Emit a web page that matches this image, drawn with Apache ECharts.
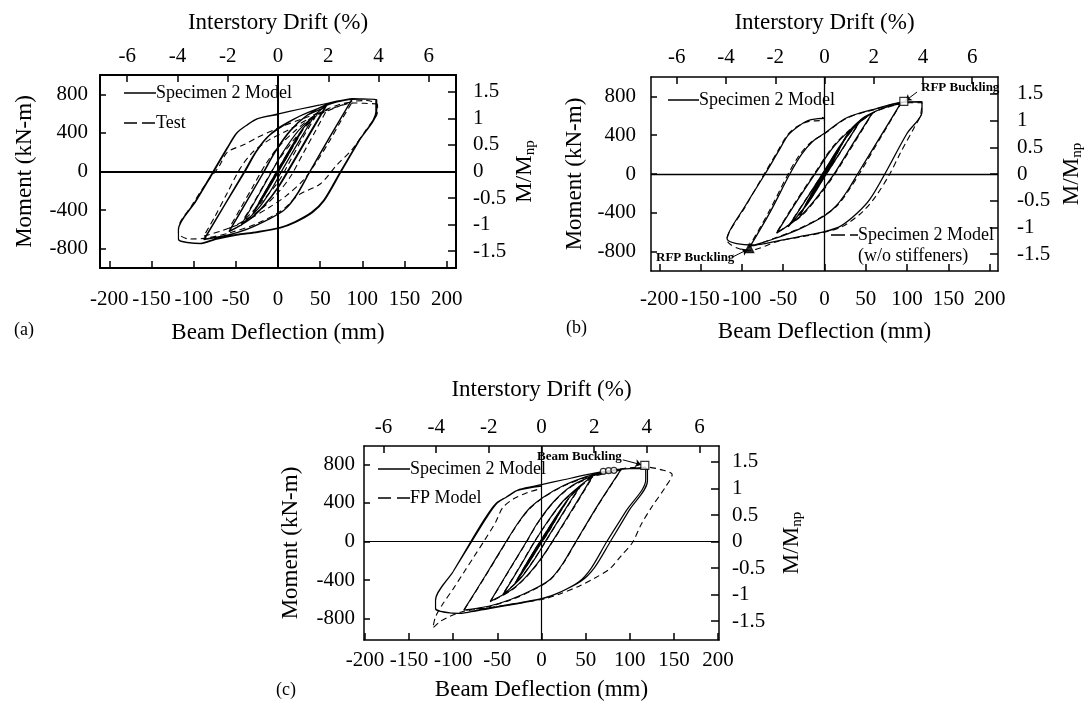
<!DOCTYPE html>
<html>
<head>
<meta charset="utf-8">
<script src="https://cdn.jsdelivr.net/npm/echarts@6/dist/echarts.min.js"></script>
<style>
html, body { margin: 0; padding: 0; background: #fff; }
#chart { width: 1086px; height: 702px; }
</style>
</head>
<body>
<div id="chart"></div>
<script>
// tick values
var deflTicks = [-200, -150, -100, -50, 0, 50, 100, 150, 200];
var driftTicks = [-6, -4, -2, 0, 2, 4, 6];
var momentTicks = [-800, -400, 0, 400, 800];
var ratioTicks = [-1.5, -1, -0.5, 0, 0.5, 1, 1.5];

// (a) Specimen 2 model vs test  [deflection mm, moment kN-m]
var aModel = [[0,0],[11,170],[-11,-165],[11,170],
  [15,230],[6,95],[-15,-225],[-6,-90],[15,230],
  [22,330],[10,150],[-6,-70],[-22,-320],[-10,-140],[6,80],[22,330],
  [30,450],[16,240],[0,-10],[-14,-220],[-30,-440],[-16,-220],[0,20],[14,230],[30,450],
  [44,590],[26,330],[6,30],[-8,-190],[-24,-390],[-44,-560],[-26,-290],[-8,-10],[6,200],[24,420],[44,590],
  [58,690],[38,390],[14,30],[0,-170],[-16,-350],[-34,-500],[-58,-620],[-38,-320],[-18,-20],[-4,200],[14,420],[34,580],[58,690],
  [58,700],[37,390],[13,30],[-1,-175],[-17,-355],[-35,-505],[-58,-625],[-37,-310],[-17,-10],[-3,205],[15,425],[35,585],[58,700],
  [74,730],[88,750],[63,380],[38,0],[24,-220],[10,-380],[-10,-490],[-35,-590],[-60,-660],[-87,-700],[-64,-360],[-39,0],[-26,200],[-13,350],[2,450],[25,570],[50,660],[70,720],[88,752],
  [62,370],[37,-10],[22,-240],[8,-395],[-12,-500],[-37,-600],[-62,-665],[-88,-705],[-64,-355],[-40,0],[-27,195],[-14,345],[1,455],[26,575],[51,665],[71,725],[88,755],
  [100,752],[116,748],[116,620],[95,310],[74,0],[54,-300],[40,-420],[20,-520],[2,-580],[-25,-625],[-50,-655],[-75,-700],[-92,-745],[-118,-700],[-118,-600],[-98,-310],[-77,0],[-60,250],[-49,400],[-37,480],[-25,545],[2,600],[25,645],[50,690],[77,740],[100,750],[117,745],
  [117,625],[96,315],[75,0],[55,-300],[41,-425],[21,-525],[3,-585],[-24,-630],[-49,-660],[-74,-705],[-91,-748],[-118,-705],[-118,-605],[-97,-305],[-76,0],[-59,255],[-48,405],[-36,485],[-24,548],[0,590]];
var aTest = [[0,0],[12,170],[-12,-160],[12,175],
  [16,230],[-16,-220],[16,235],
  [22,320],[10,150],[-8,-110],[-22,-310],[-10,-140],[8,120],[22,330],
  [30,440],[15,215],[0,0],[-15,-225],[-30,-430],[-15,-205],[0,25],[15,240],[30,450],
  [44,560],[30,360],[15,120],[0,-110],[-20,-320],[-44,-540],[-30,-340],[-15,-110],[0,110],[20,340],[44,565],
  [58,640],[45,430],[30,190],[15,-50],[0,-220],[-20,-390],[-40,-510],[-58,-590],[-45,-390],[-30,-160],[-15,70],[0,250],[20,420],[40,560],[58,645],
  [75,700],[88,720],[75,530],[60,300],[45,90],[30,-90],[10,-250],[-10,-370],[-40,-520],[-65,-610],[-88,-670],[-75,-470],[-60,-220],[-45,30],[-30,200],[-10,330],[10,420],[40,560],[65,650],[88,725],
  [105,735],[118,690],[118,620],[105,440],[88,230],[70,70],[50,-130],[25,-240],[5,-400],[-25,-540],[-55,-630],[-85,-690],[-105,-700],[-118,-640],[-118,-590],[-102,-350],[-85,-120],[-70,50],[-60,200],[-40,280],[-25,350],[0,450],[30,550],[60,640],[90,710],[118,700]];

// (b) Specimen 2 model with and without stiffeners
var bModel = [[0,0],[10,150],[-10,-150],[10,150],
  [15,230],[5,60],[-15,-225],[-5,-55],[15,230],
  [22,330],[8,120],[-8,-110],[-22,-320],[-8,-120],[8,110],[22,330],
  [30,440],[12,180],[-6,-60],[-30,-430],[-12,-170],[6,65],[30,440],
  [44,560],[24,290],[0,-30],[-20,-300],[-44,-545],[-24,-285],[0,35],[20,305],[44,560],
  [58,630],[35,320],[10,-20],[-10,-250],[-30,-440],[-58,-610],[-35,-300],[-10,20],[10,270],[32,460],[58,630],
  [75,690],[92,725],[68,390],[40,0],[28,-170],[14,-330],[0,-430],[-30,-565],[-60,-665],[-90,-745],[-66,-395],[-42,0],[-28,200],[-15,330],[0,420],[27,580],[63,675],[95,740],[118,745],
  [118,640],[100,420],[73,0],[55,-260],[40,-400],[20,-535],[0,-595],[-30,-645],[-52,-682],[-88,-732],[-118,-665],[-96,-330],[-72,0],[-56,230],[-44,400],[-32,490],[-20,550],[-8,570],[0,575],[-3,585]];
var bNoStiff = [[0,0],[10,148],[-10,-148],[10,148],
  [15,228],[-15,-222],[15,228],
  [22,328],[8,118],[-8,-108],[-22,-318],[-8,-118],[8,108],[22,328],
  [30,436],[12,176],[-6,-58],[-30,-428],[-12,-168],[6,62],[30,436],
  [44,556],[24,286],[0,-28],[-20,-296],[-44,-540],[-24,-280],[0,32],[20,300],[44,556],
  [58,625],[36,320],[11,-20],[-9,-250],[-29,-440],[-58,-605],[-36,-300],[-11,20],[9,270],[31,460],[58,625],
  [75,685],[92,720],[69,390],[42,0],[30,-160],[16,-320],[0,-425],[-30,-560],[-60,-660],[-92,-760],[-68,-400],[-44,0],[-30,200],[-16,330],[0,415],[27,575],[63,670],[95,735],[118,735],
  [116,600],[108,470],[92,220],[79,0],[62,-230],[46,-390],[22,-540],[0,-600],[-30,-650],[-55,-690],[-92,-790],[-118,-680],[-96,-340],[-73,0],[-57,230],[-45,400],[-33,490],[-20,540],[-6,550],[0,555]];
var bBuckleSq = [[96,748]];
var bBuckleTri = [[-91,-765]];

// (c) Specimen 2 model vs FP model
var cModel = [[0,0],[11,165],[-11,-160],[11,165],
  [15,225],[6,90],[-15,-220],[-6,-85],[15,225],
  [22,325],[10,145],[-6,-65],[-22,-315],[-10,-135],[6,75],[22,325],
  [30,440],[16,235],[0,-10],[-14,-215],[-30,-435],[-16,-215],[0,20],[14,225],[30,440],
  [44,580],[26,320],[6,25],[-8,-185],[-24,-385],[-44,-555],[-26,-285],[-8,-5],[6,195],[24,415],[44,580],
  [58,680],[38,380],[14,25],[0,-170],[-16,-350],[-34,-500],[-58,-620],[-38,-315],[-18,-15],[-4,200],[14,415],[34,575],[58,680],
  [75,720],[90,745],[64,380],[39,0],[24,-230],[10,-390],[-10,-500],[-35,-600],[-60,-670],[-88,-710],[-64,-360],[-40,0],[-26,200],[-13,350],[2,460],[25,580],[50,670],[72,725],[90,748],
  [105,760],[118,770],[118,640],[96,320],[74,0],[56,-280],[42,-420],[20,-530],[2,-590],[-25,-640],[-50,-680],[-75,-720],[-95,-745],[-120,-690],[-120,-600],[-100,-310],[-79,0],[-62,250],[-50,400],[-38,470],[-25,540],[0,590],[25,640],[50,690],[77,735],[100,755],[120,755],
  [120,630],[99,320],[78,0],[60,-270],[45,-410],[22,-520],[4,-580],[-22,-630],[-48,-670],[-72,-710],[-93,-745],[-120,-700],[-120,-610],[-100,-310],[-80,0],[-64,240],[-52,390],[-40,460],[-27,530],[0,575]];
var cFP = [[0,0],[11,160],[-11,-158],[11,160],
  [15,222],[-15,-218],[15,222],
  [22,320],[10,140],[-6,-60],[-22,-310],[-10,-130],[6,70],[22,320],
  [30,435],[16,230],[0,-5],[-14,-210],[-30,-430],[-16,-210],[0,25],[14,220],[30,435],
  [44,570],[26,315],[6,20],[-8,-180],[-24,-380],[-44,-550],[-26,-280],[-8,0],[6,190],[24,410],[44,570],
  [58,670],[38,370],[14,20],[0,-175],[-16,-355],[-34,-505],[-58,-625],[-38,-320],[-18,-20],[-4,195],[14,410],[34,570],[58,670],
  [75,715],[90,740],[64,375],[39,-5],[24,-235],[10,-395],[-10,-505],[-35,-605],[-60,-675],[-88,-715],[-64,-365],[-40,-5],[-26,195],[-13,345],[2,455],[25,575],[50,665],[72,720],
  [100,765],[120,770],[135,745],[148,695],[140,560],[125,360],[113,180],[103,-10],[90,-150],[77,-285],[60,-380],[43,-460],[20,-545],[5,-590],[-20,-630],[-44,-665],[-70,-700],[-89,-725],[-105,-780],[-115,-830],[-123,-895],[-120,-780],[-112,-650],[-100,-490],[-88,-320],[-76,-150],[-64,20],[-52,200],[-44,350],[-32,440],[-15,510],[0,550]];
var cBuckleSq = [[117,790]];
var cBuckleCirc = [[70,728],[76,734],[82,738]];

var FONT = 'Liberation Serif';
var MM_PER_PCT = 29.8;   // beam deflection per 1% drift
var MNP = 550;           // plastic moment, kN-m

var panels = [
  {grid: {left: 100, top: 75, width: 356, height: 193}, xr: 211, ylo: -1000, yhi: 1000, lw: 2,
   margin: [21, 8, 12, 17], gap: [53, 41, 64, 55]},
  {grid: {left: 651, top: 77, width: 352, height: 194}, xr: 210, ylo: -1000, yhi: 1000, lw: 1.5,
   margin: [18, 9, 15, 19], gap: [49, 43, 65, 60]},
  {grid: {left: 364, top: 446, width: 355, height: 196}, xr: 201, ylo: -1020, yhi: 990, lw: 1.5,
   margin: [10, 8, 9, 13], gap: [38, 45, 62, 59]}
];

var titleStyle = {color: '#000', fontFamily: FONT, fontSize: 23};

function axis(gi, pos, min, max, ticks, margin, lw, tickLen) {
  return {
    gridIndex: gi, type: 'value', position: pos, min: min, max: max,
    axisLine: {show: true, onZero: false, lineStyle: {color: '#000', width: lw}},
    axisTick: {show: true, inside: true, length: tickLen, customValues: ticks,
               lineStyle: {color: '#000', width: 1.5}},
    axisLabel: {show: true, customValues: ticks, margin: margin, color: '#000',
                fontFamily: FONT, fontSize: 21},
    splitLine: {show: false}
  };
}

var grids = [], xAxes = [], yAxes = [];
panels.forEach(function (p, i) {
  grids.push(Object.assign({show: false}, p.grid));
  var bottom = axis(i, 'bottom', -p.xr, p.xr, deflTicks, p.margin[0], p.lw, 7);
  bottom.name = 'Beam Deflection (mm)';
  bottom.nameLocation = 'middle';
  bottom.nameGap = p.gap[0];
  bottom.nameTextStyle = titleStyle;
  var top = axis(i, 'top', -p.xr / MM_PER_PCT, p.xr / MM_PER_PCT, driftTicks, p.margin[1], p.lw, 7);
  top.name = 'Interstory Drift (%)';
  top.nameLocation = 'middle';
  top.nameGap = p.gap[1];
  top.nameTextStyle = titleStyle;
  xAxes.push(bottom, top);
  var left = axis(i, 'left', p.ylo, p.yhi, momentTicks, p.margin[2], p.lw, 6);
  left.name = 'Moment (kN-m)';
  left.nameLocation = 'middle';
  left.nameGap = p.gap[2];
  left.nameTextStyle = titleStyle;
  var right = axis(i, 'right', p.ylo / MNP, p.yhi / MNP, ratioTicks, p.margin[3], p.lw, 8);
  right.name = 'M/M{s|np}';
  right.nameLocation = 'middle';
  right.nameRotate = 90;
  right.nameGap = p.gap[3];
  right.nameTextStyle = {color: '#000', fontFamily: FONT, fontSize: 23,
    rich: {s: {fontFamily: FONT, fontSize: 15, color: '#000', padding: [12, 0, 0, 0]}}};
  right.axisLabel.align = 'left';
  yAxes.push(left, right);
});

function curve(i, data, dashed, width) {
  return {
    type: 'line', xAxisIndex: 2 * i, yAxisIndex: 2 * i, data: data,
    symbol: 'none', showSymbol: false, smooth: 0.3, silent: true,
    lineStyle: {color: '#000', width: width, type: dashed ? [6, 4] : 'solid'},
    z: 3
  };
}

function zeroLines(s, w) {
  s.markLine = {
    silent: true, symbol: ['none', 'none'], label: {show: false},
    lineStyle: {color: '#000', type: 'solid', width: w},
    data: [{yAxis: 0}, {xAxis: 0}]
  };
  return s;
}

function marker(i, data, symbol, size, filled, arrow) {
  var s = {
    type: 'scatter', xAxisIndex: 2 * i, yAxisIndex: 2 * i, data: data,
    symbol: symbol, symbolSize: size, silent: true, z: 5,
    itemStyle: {color: filled ? '#000' : '#fff', borderColor: '#000', borderWidth: 1.2}
  };
  if (arrow) {
    s.markLine = {
      silent: true, symbol: ['none', 'arrow'], symbolSize: 6, label: {show: false},
      lineStyle: {color: '#000', type: 'solid', width: 1},
      data: [[{coord: arrow[0]}, {coord: arrow[1]}]]
    };
  }
  return s;
}

var series = [
  zeroLines(curve(0, aModel, false, 1.2), 2),
  curve(0, aTest, true, 1.1),
  zeroLines(curve(1, bModel, false, 1.3), 1.3),
  curve(1, bNoStiff, true, 1.1),
  marker(1, bBuckleSq, 'rect', 8, false, [[112, 845], [98, 755]]),
  marker(1, bBuckleTri, 'triangle', 9, true, [[-111, -855], [-93, -778]]),
  zeroLines(curve(2, cModel, false, 1.2), 1.2),
  curve(2, cFP, true, 1.1),
  marker(2, cBuckleSq, 'rect', 8, false, [[92, 847], [113, 796]]),
  marker(2, cBuckleCirc, 'circle', 6, false)
];

function txt(x, y, s, size, bold, align) {
  return {type: 'text', x: x, y: y, z: 10, silent: true,
    style: {text: s, fill: '#000', font: (bold ? 'bold ' : '') + size + 'px "Liberation Serif"',
            textAlign: align || 'left', textVerticalAlign: 'middle',
            align: align || 'left', verticalAlign: 'middle'}};
}
function seg(x1, x2, y, dash) {
  return {type: 'line', z: 10, silent: true, shape: {x1: x1, y1: y, x2: x2, y2: y},
    style: {stroke: '#000', lineWidth: 1.5, lineDash: dash || null}};
}

var graphic = [
  txt(14, 330, '(a)', 18), txt(566, 328, '(b)', 18), txt(276, 690, '(c)', 18),
  // legends
  seg(124, 156, 93), txt(156, 93, 'Specimen 2 Model', 18),
  seg(124, 156, 123, [13, 5]), txt(156, 123, 'Test', 18),
  seg(668, 699, 100), txt(699, 100, 'Specimen 2 Model', 18),
  seg(831, 858, 235, [14, 5]), txt(858, 235, 'Specimen 2 Model', 18),
  txt(858, 256, '(w/o stiffeners)', 18),
  seg(378, 410, 469), txt(410, 469, 'Specimen 2 Model', 18),
  seg(378, 410, 498, [13, 6]), txt(410, 498, 'FP Model', 18),
  // annotations
  txt(921, 88, 'RFP Buckling', 13, true), txt(656, 258, 'RFP Buckling', 13, true),
  txt(537, 457, 'Beam Buckling', 13, true)
];

var chart = echarts.init(document.getElementById('chart'));
chart.setOption({
  animation: false,
  backgroundColor: '#fff',
  grid: grids,
  xAxis: xAxes,
  yAxis: yAxes,
  series: series,
  graphic: graphic
});
</script>
</body>
</html>
